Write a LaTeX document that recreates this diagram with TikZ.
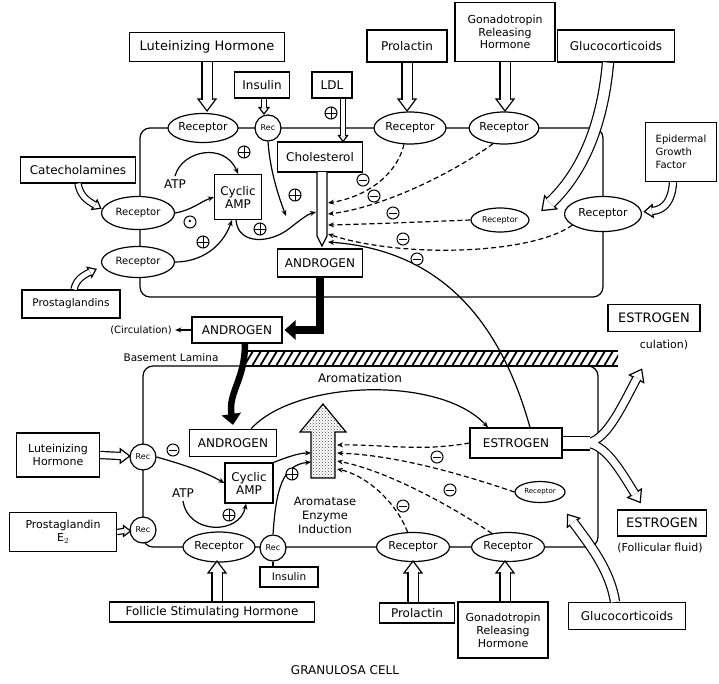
\documentclass[tikz,border=0pt]{standalone}
\usepackage{fontspec}
\setmainfont{DejaVu Sans}
\usepackage{tikz}
\usetikzlibrary{positioning,arrows.meta,patterns,shapes.geometric}

\tikzset{
  box/.style={draw, line width=1.2pt, fill=white, align=center, inner sep=2pt, font=\fontsize{12}{13}\selectfont},
  rcp/.style={draw, ellipse, line width=1.2pt, fill=white, inner sep=0pt, font=\fontsize{11}{12}\selectfont},
  rec/.style={draw, circle, line width=1.2pt, fill=white, minimum size=26pt, inner sep=0pt, font=\fontsize{8}{8}\selectfont},
  sgn/.style={circle, draw, line width=1pt, fill=white, minimum size=12pt, inner sep=0pt},
  pls/.style={sgn, path picture={\draw[line width=1pt] (path picture bounding box.west) -- (path picture bounding box.east) (path picture bounding box.north) -- (path picture bounding box.south);}},
  mns/.style={sgn, path picture={\draw[line width=1pt] ([xshift=2pt]path picture bounding box.west) -- ([xshift=-2pt]path picture bounding box.east);}},
  odt/.style={sgn, font=\fontsize{8}{8}\selectfont},
  lbl/.style={font=\fontsize{12}{13}\selectfont, align=center},
  hollow/.style={double=white, double distance=#1, line width=1.2pt},
  hollow/.default=8pt,
  cnx/.style={line width=1.2pt, -{Stealth[length=6pt,width=5pt]}},
  inh/.style={cnx, dash pattern=on 5pt off 3pt},
  blk/.style={line width=8pt, -{Triangle[length=11pt,width=19pt]}}
}

% hollow arrow head: base point, direction
\newcommand{\hhead}[4][1]{%
  \begin{scope}[shift={(#2,#3)}, rotate=#4, scale=#1]
    \draw[line width=1.2pt, fill=white] (-1,9) -- (11,0) -- (-1,-9) -- cycle;
  \end{scope}}

\begin{document}
\begin{tikzpicture}[x=1pt, y=-1pt]
  \useasboundingbox (0,0) rectangle (719,683);

  % cells and lamina
  \draw[line width=1.2pt, rounded corners=10pt] (140,128) rectangle (603,297);
  \draw[line width=1.2pt, rounded corners=10pt] (143,366) rectangle (598,547);
  \fill[white] (243,351) rectangle (618,366);
  \begin{scope}
    \clip (243,351) rectangle (618,366);
    \foreach \x in {236,244,...,620}
      \draw[line width=1.8pt] (\x,366) -- (\x+9,351);
  \end{scope}
  \draw[line width=1.2pt] (243,351) -- (618,351) (243,366) -- (618,366);
  \node[lbl, font=\fontsize{10.5}{11}\selectfont] (lam) at (171,358) {Basement Lamina};

  % theca cell
  \node[box, minimum width=155pt, minimum height=29pt, font=\fontsize{13}{14}\selectfont] (lhT) at (207,47) {Luteinizing Hormone};
  \node[box, minimum width=55pt, minimum height=26pt] (insT) at (262,85) {Insulin};
  \node[box, minimum width=40pt, minimum height=26pt] (ldl) at (332,85) {LDL};
  \node[box, minimum width=80pt, minimum height=32pt] (prlT) at (407,46) {Prolactin};
  \node[box, minimum width=100pt, minimum height=59pt, font=\fontsize{11}{12.5}\selectfont] (gnT) at (505,32) {Gonadotropin\\Releasing\\Hormone};
  \node[box, minimum width=117pt, minimum height=32pt] (gcT) at (616,46) {Glucocorticoids};
  \node[box, align=left, minimum width=71pt, minimum height=59pt, font=\fontsize{10}{13}\selectfont] (egf) at (681,152) {Epidermal\\Growth\\Factor};
  \node[box, minimum width=115pt, minimum height=26pt] (cat) at (78,170) {Catecholamines};
  \node[box, minimum width=98pt, minimum height=28pt, font=\fontsize{10.5}{11}\selectfont] (pgT) at (71,304) {Prostaglandins};

  \node[rcp, minimum width=70pt, minimum height=29pt] (recLH) at (203,128) {Receptor};
  \node[rec] (recI) at (268,128) {Rec};
  \node[rcp, minimum width=72pt, minimum height=32pt] (recPT) at (410,128) {Receptor};
  \node[rcp, minimum width=68pt, minimum height=32pt] (recGT) at (504,128) {Receptor};
  \node[rcp, minimum width=58pt, minimum height=24pt, font=\fontsize{8}{9}\selectfont] (recGC) at (500,220) {Receptor};
  \node[rcp, minimum width=77pt, minimum height=35pt] (recEGF) at (603,214) {Receptor};
  \node[rcp, minimum width=73pt, minimum height=33pt, font=\fontsize{10}{11}\selectfont] (recC) at (138,213) {Receptor};
  \node[rcp, minimum width=73pt, minimum height=31pt, font=\fontsize{10}{11}\selectfont] (recP) at (138,262) {Receptor};
  \node[box, minimum width=85pt, minimum height=30pt] (chol) at (320,157) {Cholesterol};
  \node[box, minimum width=47pt, minimum height=45pt, inner sep=1pt] (camT) at (238,197) {Cyclic\\AMP};
  \node[lbl] (atpT) at (175,184) {ATP};
  \node[box, minimum width=85pt, minimum height=28pt] (andT) at (320,263) {ANDROGEN};
  \node[box, minimum width=90pt, minimum height=26pt] (andC) at (237,330) {ANDROGEN};
  \node[lbl, font=\fontsize{10}{11}\selectfont] (circ) at (141,330) {(Circulation)};

  \hhead{207}{100}{-90}
  \draw[hollow=9pt] (lhT.south) -- (207,100);
  \hhead[0.55]{264}{108}{-90}
  \draw[hollow=4pt] ([xshift=2pt]insT.south) -- (264,108);
  \hhead[0.5]{343}{136}{-90}
  \draw[hollow=4pt] ([xshift=11pt]ldl.south) -- (343,136);
  \hhead{407}{100}{-90}
  \draw[hollow=9pt] (prlT.south) -- (407,100);
  \hhead{505}{100}{-90}
  \draw[hollow=9pt] (gnT.south) -- (505,100);
  \hhead[0.6]{95}{205}{-30}
  \draw[hollow=5pt] (cat.south) .. controls (80,195) and (86,200) .. (95,205);
  \hhead[0.6]{90}{272}{25}
  \draw[hollow=5pt] ([xshift=3pt]pgT.north) .. controls (76,280) and (82,276) .. (90,272);
  \hhead[0.7]{652}{211}{185}
  \draw[hollow=6pt] ([xshift=-8pt]egf.south) .. controls (672,200) and (665,210) .. (652,211);
  \hhead{550}{203}{223}
  \draw[hollow=10pt] ([xshift=-8pt]gcT.south) .. controls (603,120) and (585,170) .. (550,203);
  \draw[line width=1.2pt, fill=white] (317,172) -- (317,236) -- (322,246) -- (327,236) -- (327,172);
  \node[pls] (p0) at (331,113) {};

  \draw[cnx] (atpT.north) .. controls (182,150) and (225,142) .. (camT.north);
  \node[pls] (p1) at (244,152) {};
  \draw[cnx] (recC.east) .. controls (192,210) and (200,202) .. (camT.west);
  \node[odt] (p2) at (190,222) {•};
  \draw[cnx] (recP.east) .. controls (200,262) and (222,248) .. ([xshift=-6pt]camT.south);
  \node[pls] (p3) at (203,242) {};
  \coordinate (ins1) at (286,216);
  \draw[cnx] (recI.south) .. controls (270,170) and (278,195) .. (ins1);
  \node[pls] (p4) at (295,195) {};
  \coordinate (sh0) at (316,212);
  \draw[cnx] ([xshift=-2pt]camT.south) .. controls (238,245) and (270,244) .. (290,228) .. controls (300,220) and (308,214) .. (sh0);
  \node[pls] (p5) at (260,229) {};

  \coordinate (sh1) at (328,203);
  \coordinate (sh2) at (328,214);
  \coordinate (sh3) at (328,225);
  \coordinate (sh4) at (328,234);
  \coordinate (sh5) at (328,242);
  \draw[inh] (recPT.250) .. controls (395,180) and (360,198) .. (sh1);
  \draw[inh] (recGT.235) .. controls (450,175) and (380,208) .. (sh2);
  \draw[inh] (recGC.west) .. controls (420,222) and (370,224) .. (sh3);
  \draw[inh] (recEGF.200) .. controls (530,255) and (400,258) .. (sh4);
  \node[mns] (m1) at (363,180) {};
  \node[mns] (m2) at (374,196) {};
  \node[mns] (m3) at (393,213) {};
  \node[mns] (m4) at (403,239) {};

  \draw[blk] (andT.south) |- ([xshift=2pt]andC.east);
  \draw[cnx] (andC.west) -- (circ.east);

  % granulosa cell
  \node[box, minimum width=83pt, minimum height=44pt, font=\fontsize{11}{13}\selectfont] (lhL) at (58,455) {Luteinizing\\Hormone};
  \node[box, minimum width=107pt, minimum height=39pt, font=\fontsize{11}{13}\selectfont] (pgL) at (63,532) {Prostaglandin\\E$_2$};
  \node[rec] (recL1) at (143,457) {Rec};
  \node[rec] (recL2) at (143,530) {Rec};
  \node[box, minimum width=87pt, minimum height=27pt] (andL) at (233,443) {ANDROGEN};
  \node[box, minimum width=48pt, minimum height=40pt, inner sep=1pt] (camL) at (249,483) {Cyclic\\AMP};
  \node[lbl] (atpL) at (183,493) {ATP};
  \node[rcp, minimum width=72pt, minimum height=30pt] (recF) at (219,547) {Receptor};
  \node[rec] (recIL) at (273,548) {Rec};
  \node[box, minimum width=58pt, minimum height=20pt, font=\fontsize{10.5}{11}\selectfont] (insL) at (289,577) {Insulin};
  \node[box, minimum width=92pt, minimum height=30pt] (estL) at (516,443) {ESTROGEN};
  \node[rcp, minimum width=50pt, minimum height=21pt, font=\fontsize{7}{8}\selectfont] (recGCL) at (540,492) {Receptor};
  \node[rcp, minimum width=73pt, minimum height=29pt] (recPL) at (413,547) {Receptor};
  \node[rcp, minimum width=73pt, minimum height=29pt] (recGL) at (508,547) {Receptor};
  \node[box, minimum width=205pt, minimum height=20pt] (fsh) at (212,612) {Follicle Stimulating Hormone};
  \node[box, minimum width=75pt, minimum height=20pt] (prlL) at (417,613) {Prolactin};
  \node[box, minimum width=90pt, minimum height=56pt, font=\fontsize{11}{13}\selectfont] (gnL) at (503,630) {Gonadotropin\\Releasing\\Hormone};
  \node[box, minimum width=117pt, minimum height=27pt] (gcL) at (627,616) {Glucocorticoids};
  \node[box, minimum width=92pt, minimum height=27pt, font=\fontsize{13}{14}\selectfont] (estC) at (654,318) {ESTROGEN};
  \node[lbl, font=\fontsize{11}{12}\selectfont] (estCt) at (664,345) {culation)};
  \node[box, minimum width=89pt, minimum height=26pt, font=\fontsize{13}{14}\selectfont] (estF) at (662,523) {ESTROGEN};
  \node[lbl, font=\fontsize{11}{12}\selectfont] (estFt) at (660,548) {(Follicular fluid)};
  \node[lbl] (aromz) at (360,378) {Aromatization};
  \node[lbl, font=\fontsize{11.5}{14}\selectfont] (aromtxt) at (325,515) {Aromatase\\Enzyme\\Induction};
  \node[font=\fontsize{12}{13}\selectfont] (title) at (345,670) {GRANULOSA CELL};

  \draw[line width=1.2pt] (recIL.south) -- (recIL.south |- insL.north);
  \draw[line width=1.2pt, pattern=crosshatch dots, pattern color=black!70] (311,478) -- (311,432) -- (300,432) -- (323,404) -- (346,432) -- (335,432) -- (335,478) -- cycle;

  \hhead[0.8]{121}{456}{0}
  \draw[hollow=6pt] (lhL.east) -- (121,456);
  \hhead[0.6]{124}{531}{0}
  \draw[hollow=4pt] (pgL.east) -- (124,531);
  \hhead{217}{572}{90}
  \draw[hollow=9pt] ([xshift=5pt]fsh.north) -- (217,572);
  \hhead{413}{572}{90}
  \draw[hollow=9pt] ([xshift=-4pt]prlL.north) -- (413,572);
  \hhead{505}{572}{90}
  \draw[hollow=9pt] ([xshift=2pt]gnL.north) -- (505,572);
  \hhead[0.85]{573}{522}{126}
  \draw[hollow=8pt] ([xshift=-12pt]gcL.north) .. controls (610,570) and (590,545) .. (573,522);

  \hhead[0.9]{637}{378}{62}
  \hhead[0.9]{635}{494}{-58}
  \draw[line width=15pt] ([xshift=0.6pt]estL.east) -- (590,443);
  \draw[line width=9.4pt] (585,443) .. controls (605,443) and (620,410) .. (637,378);
  \draw[line width=9.4pt] (585,443) .. controls (605,443) and (620,470) .. (635,494);
  \draw[line width=12.6pt, white] ([xshift=0.6pt]estL.east) -- (590,443);
  \draw[line width=7pt, white] (585,443) .. controls (605,443) and (620,410) .. (637,378);
  \draw[line width=7pt, white] (585,443) .. controls (605,443) and (620,470) .. (635,494);

  \draw[cnx] ([xshift=14pt]estL.north) .. controls (500,320) and (440,250) .. (sh5);
  \node[mns] (m5) at (417,259) {};
  \draw[blk, line width=6.5pt] ([xshift=8pt]andC.south) .. controls (245,380) and (228,392) .. ([yshift=4pt]andL.north);

  \draw[cnx] (recL1.east) .. controls (185,465) and (205,472) .. (camL.west);
  \node[mns] (m6) at (173,450) {};
  \draw[cnx] (atpL.south) .. controls (188,535) and (240,535) .. ([xshift=-3pt]camL.south);
  \node[pls] (p6) at (229,515) {};
  \coordinate (ar1) at (311,453);
  \coordinate (ar2) at (311,462);
  \draw[cnx] (camL.north east) .. controls (285,458) and (298,453) .. (ar1);
  \draw[cnx] (recIL.north) .. controls (276,490) and (282,465) .. (ar2);
  \node[pls] (p7) at (292,474) {};
  \draw[cnx] ([xshift=18pt]andL.north) .. controls (295,380) and (440,375) .. ([xshift=-28pt]estL.north);

  \coordinate (ar3) at (337,445);
  \coordinate (ar4) at (337,453);
  \coordinate (ar5) at (337,461);
  \coordinate (ar6) at (337,469);
  \draw[inh] (estL.west) .. controls (420,452) and (380,444) .. (ar3);
  \draw[inh] (recGCL.west) .. controls (450,470) and (390,455) .. (ar4);
  \draw[inh] (recGL.140) .. controls (450,505) and (385,470) .. (ar5);
  \draw[inh] (recPL.110) .. controls (395,500) and (365,475) .. (ar6);
  \node[mns] (m7) at (437,457) {};
  \node[mns] (m8) at (450,490) {};
  \node[mns] (m9) at (403,506) {};
\end{tikzpicture}
\end{document}
